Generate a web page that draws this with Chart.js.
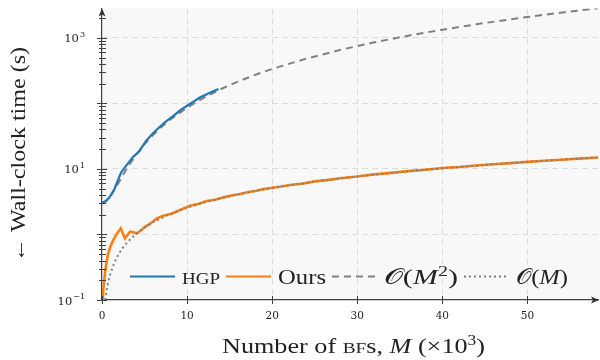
<!DOCTYPE html>
<html>
<head>
<meta charset="utf-8">
<script src="https://cdn.jsdelivr.net/npm/chart.js@4.4.1/dist/chart.umd.min.js"></script>
<style>
  html, body { margin: 0; padding: 0; background: #fff; }
</style>
</head>
<body>
<canvas id="timeChart" width="600" height="360"></canvas>
<script>
// number of basis functions M (x1000) and wall-clock time (s)
const hgpM = [0, 0.4, 0.86, 1.45, 1.85, 2.24, 2.82, 3.6, 4.4, 5.2, 6.0, 6.8, 7.6, 8.4, 9.2, 10.0, 10.8, 11.5, 12.3, 13.0, 13.7];
const hgpTime = [3.06, 3.2, 3.65, 4.9, 6.6, 8.8, 11.1, 14.9, 18.8, 27, 35, 44, 54, 64.6, 79, 92, 107, 123, 138, 152, 165];

const oursM = [0.1, 0.15, 0.35, 0.55, 0.74, 1.0, 1.33, 1.7, 2.2, 2.7, 3.0, 3.3, 3.7, 4.1, 4.6, 5.06, 5.7, 6.44, 7.21, 8.2,
    9.18, 10.35, 11.3, 12.3, 13.3, 14.3, 15.2, 16.2, 17.1, 18.0, 19.0, 20.0, 20.9, 22.3, 23.7, 25.0, 26.4, 28, 30, 32,
    34, 36, 38, 40, 42, 44, 46, 48, 50, 52, 54, 56, 58.3];
const oursTime = [0.1, 0.142, 0.258, 0.39, 0.52, 0.66, 0.82, 1.0, 1.24, 0.87, 0.98, 1.10, 1.08, 1.04, 1.16, 1.31, 1.47, 1.76, 1.93, 2.07,
    2.36, 2.74, 2.92, 3.23, 3.38, 3.68, 3.92, 4.13, 4.4, 4.6, 4.92, 5.15, 5.34, 5.74, 6.0, 6.45, 6.75, 7.2, 7.65, 8.25,
    8.7, 9.25, 9.7, 10.3, 10.7, 11.3, 11.8, 12.25, 12.8, 13.35, 13.8, 14.35, 14.95];

// reference complexity curves
const quadM = [0, 0.5, 1, 1.5, 2, 2.5, 3, 4, 5, 6, 7, 8, 10, 12, 14, 16, 18, 20, 24, 28, 32, 36, 40, 44, 48, 52, 56, 58.3];
const quadTime = [3.0, 3.21, 3.83, 4.87, 6.32, 8.19, 10.5, 16.3, 23.8, 32.9, 43.7, 56.1, 86, 122.5, 165.7, 215.5, 272, 335,
    481, 654, 853, 1079, 1331, 1610, 1915, 2247, 2606, 2824];

const linM = [0.4, 0.6, 0.8, 1, 1.5, 2, 2.5, 3, 4, 5, 6, 8, 10, 12, 15, 18, 21, 25, 30, 35, 40, 45, 50, 55, 58.3];
const linTime = [0.10, 0.154, 0.205, 0.256, 0.384, 0.512, 0.64, 0.768, 1.02, 1.28, 1.54, 2.05, 2.56, 3.07, 3.84, 4.61, 5.38,
    6.4, 7.68, 8.96, 10.2, 11.5, 12.8, 14.1, 14.9];

const xTicks = [0, 10, 20, 30, 40, 50];
const yDecades = [0.1, 1, 10, 100, 1000];
const yLabelValues = [0.1, 10, 1000];
const yTickBase = '10';
const yTickExp = ['\u22121', '1', '3'];

const serif = '"Liberation Serif"';
const tickSerif = '"DejaVu Serif"';

function toPoints(xs, ys) {
    return xs.map((x, i) => ({ x: x, y: ys[i] }));
}

function isDecade(v) {
    const l = Math.log10(v);
    return Math.abs(l - Math.round(l)) < 1e-6;
}

// draw a list of text runs, squeezed/stretched to a target width
function drawRuns(ctx, runs, x, y, targetWidth) {
    let w = 0;
    runs.forEach(r => { ctx.font = r.font; w += ctx.measureText(r.text).width; });
    const sx = targetWidth ? targetWidth / w : 1;
    ctx.save();
    ctx.translate(x, y);
    ctx.scale(sx, 1);
    let cx = 0;
    runs.forEach(r => {
        ctx.font = r.font;
        ctx.fillText(r.text, cx, r.dy || 0);
        cx += ctx.measureText(r.text).width;
    });
    ctx.restore();
    return w * sx;
}

const plotBackground = {
    id: 'plotBackground',
    beforeDraw(chart) {
        const { ctx, chartArea: a } = chart;
        ctx.save();
        ctx.fillStyle = '#f8f8f8';
        ctx.fillRect(a.left, a.top, a.right - a.left + 2, a.bottom - a.top);
        ctx.restore();
    }
};

const axisDecor = {
    id: 'axisDecor',
    afterDraw(chart) {
        const { ctx, chartArea: a } = chart;
        const ys = chart.scales.y;
        const xs = chart.scales.x;
        ctx.save();
        ctx.strokeStyle = '#404040';
        ctx.lineWidth = 1;
        ys.ticks.forEach(t => {
            const py = Math.round(ys.getPixelForValue(t.value)) + 0.5;
            const major = isDecade(t.value);
            ctx.beginPath();
            ctx.moveTo(a.left - (major ? 5 : 3), py);
            ctx.lineTo(a.left + (major ? 5 : 4), py);
            ctx.stroke();
        });
        xs.ticks.forEach(t => {
            const px = Math.round(xs.getPixelForValue(t.value)) + 0.5;
            ctx.beginPath();
            ctx.moveTo(px, a.bottom - 4);
            ctx.lineTo(px, a.bottom + 4);
            ctx.stroke();
        });
        // arrow heads
        ctx.fillStyle = '#303030';
        ctx.beginPath();
        ctx.moveTo(a.left, a.top);
        ctx.lineTo(a.left - 3.5, a.top + 8);
        ctx.lineTo(a.left, a.top + 6);
        ctx.lineTo(a.left + 3.5, a.top + 8);
        ctx.closePath();
        ctx.fill();
        ctx.beginPath();
        ctx.moveTo(a.right + 1, a.bottom);
        ctx.lineTo(a.right - 7, a.bottom - 3.5);
        ctx.lineTo(a.right - 5, a.bottom);
        ctx.lineTo(a.right - 7, a.bottom + 3.5);
        ctx.closePath();
        ctx.fill();

        // y tick labels 10^k
        ctx.fillStyle = '#222';
        ctx.textBaseline = 'alphabetic';
        yLabelValues.forEach((v, i) => {
            const py = ys.getPixelForValue(v);
            ctx.font = '8px ' + tickSerif;
            const ew = ctx.measureText(yTickExp[i]).width;
            ctx.fillText(yTickExp[i], 85 - ew, py - 1);
            ctx.font = '11.5px ' + tickSerif;
            const bw = ctx.measureText(yTickBase).width;
            ctx.fillText(yTickBase, 85 - ew - 1 - bw, py + 4.5);
        });

        // axis titles
        drawRuns(ctx, [
            { text: 'Number of ', font: '21px ' + serif },
            { text: 'BF', font: '15.5px ' + serif },
            { text: 's, ', font: '21px ' + serif },
            { text: 'M', font: 'italic 21px ' + serif },
            { text: ' (\u00D710', font: '21px ' + serif },
            { text: '3', font: '14px ' + serif, dy: -8 },
            { text: ')', font: '21px ' + serif }
        ], 222, 353, 263);

        ctx.save();
        ctx.translate(25, 262);
        ctx.rotate(-Math.PI / 2);
        drawRuns(ctx, [{ text: '\u2190 Wall-clock time (s)', font: '21px ' + serif }], 0, 0, 215);
        ctx.restore();
        ctx.restore();
    }
};

const legendItems = [
    { runs: [{ text: 'HGP', font: '16px ' + serif }], w: 38, color: '#1f77b4', dash: [] },
    { runs: [{ text: 'Ours', font: '21px ' + serif }], w: 48, color: '#ff7f0e', dash: [] },
    { runs: [{ text: '\uD835\uDCAA', font: '21px ' + serif }, { text: '(', font: '21px ' + serif },
        { text: 'M', font: 'italic 21px ' + serif }, { text: '2', font: '14px ' + serif, dy: -8 },
        { text: ')', font: '21px ' + serif }], w: 74, color: '#808080', dash: [7, 5] },
    { runs: [{ text: '\uD835\uDCAA', font: '21px ' + serif }, { text: '(', font: '21px ' + serif },
        { text: 'M', font: 'italic 21px ' + serif }, { text: ')', font: '21px ' + serif }], w: 52, color: '#808080', dash: [2, 3] }
];

const insideLegend = {
    id: 'insideLegend',
    afterDatasetsDraw(chart) {
        const ctx = chart.ctx;
        const y = 276.5;
        let x = 130;
        ctx.save();
        legendItems.forEach(item => {
            ctx.strokeStyle = item.color;
            ctx.lineWidth = 2.2;
            ctx.setLineDash(item.dash);
            ctx.beginPath();
            ctx.moveTo(x, y);
            ctx.lineTo(x + 45, y);
            ctx.stroke();
            ctx.setLineDash([]);
            x += 52;
            ctx.fillStyle = '#222';
            x += drawRuns(ctx, item.runs, x, y + 7, item.w) + 6;
        });
        ctx.restore();
    }
};

new Chart(document.getElementById('timeChart'), {
    type: 'line',
    data: {
        datasets: [
            { label: 'O(M)', data: toPoints(linM, linTime), borderColor: '#808080', borderWidth: 2, borderDash: [2, 3] },
            { label: 'HGP', data: toPoints(hgpM, hgpTime), borderColor: '#1f77b4', borderWidth: 2.2 },
            { label: 'Ours', data: toPoints(oursM, oursTime), borderColor: '#ff7f0e', borderWidth: 2.6 },
            { label: 'O(M^2)', data: toPoints(quadM, quadTime), borderColor: '#808080', borderWidth: 2, borderDash: [7, 5] }
        ]
    },
    options: {
        responsive: false,
        animation: false,
        layout: { padding: { top: 2, right: 2, left: 0, bottom: 0 } },
        elements: { point: { radius: 0 }, line: { tension: 0, fill: false } },
        plugins: { legend: { display: false }, tooltip: { enabled: false } },
        scales: {
            x: {
                type: 'linear',
                min: 0,
                max: 58.3,
                afterBuildTicks: s => { s.ticks = xTicks.map(v => ({ value: v })); },
                afterFit: s => { s.height = 60; },
                grid: {
                    drawTicks: false,
                    lineWidth: 1,
                    color: c => (c.tick && c.tick.value > 0 ? '#dadada' : 'rgba(0,0,0,0)')
                },
                border: { display: true, color: '#404040', width: 1.2, dash: [6, 4] },
                ticks: {
                    padding: 10,
                    maxRotation: 0,
                    autoSkip: false,
                    color: '#222',
                    font: { family: 'DejaVu Serif', size: 10.5 }
                }
            },
            y: {
                type: 'logarithmic',
                min: 0.1,
                max: 2790,
                afterBuildTicks: s => {
                    const t = [];
                    yDecades.forEach(d => {
                        for (let k = 1; k <= 9; k++) {
                            if (d * k <= 2790) t.push({ value: d * k });
                        }
                    });
                    s.ticks = t;
                },
                afterFit: s => { s.width = 102; },
                grid: {
                    drawTicks: false,
                    lineWidth: 1,
                    color: c => (c.tick && isDecade(c.tick.value) && c.tick.value > 0.1 ? '#dadada' : 'rgba(0,0,0,0)')
                },
                border: { display: true, color: '#404040', width: 1.2, dash: [6, 4] },
                ticks: {
                    display: true,
                    padding: 8,
                    autoSkip: false,
                    font: { size: 1 },
                    callback: () => ''
                }
            }
        }
    },
    plugins: [plotBackground, axisDecor, insideLegend]
});
</script>
</body>
</html>
